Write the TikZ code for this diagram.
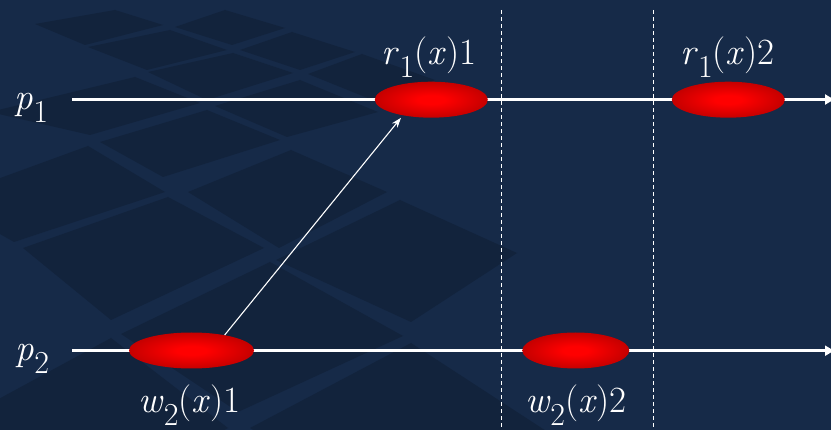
\documentclass[tikz,border=0pt]{standalone}
\usetikzlibrary{shapes.geometric, arrows.meta, positioning}
\definecolor{slideNavy}{HTML}{162A48}
\definecolor{tileNavy}{HTML}{12233C}
\definecolor{eventRed}{HTML}{FF0000}
\definecolor{eventDark}{HTML}{7A0000}
\pgfdeclareradialshading{eventglow}{\pgfpoint{0bp}{0bp}}{color(0bp)=(eventRed); color(6bp)=(eventRed); color(50bp)=(eventDark)}
\newcommand{\lowsub}[1]{\raisebox{-0.33em}{\fontsize{32}{34}\selectfont #1}}
\newcommand{\evlabel}[3]{\textit{#1}\lowsub{#2}(\textit{x})#3}
\tikzset{
    event/.style={ellipse, minimum height=36pt, inner sep=0pt, shading=eventglow},
    procline/.style={-{Triangle[length=9pt, width=10pt]}, line width=3pt, draw=white},
    msg/.style={-{Stealth[length=10pt, width=7pt]}, line width=1.1pt, draw=white, shorten >=3pt},
    cut/.style={draw=white, line width=1pt, dash pattern=on 4pt off 3pt},
    lbl/.style={text=white, font=\fontsize{37}{42}\selectfont, anchor=base, inner sep=0pt},
    tile/.style={fill=tileNavy},
}

\begin{document}
\begin{tikzpicture}[x=1pt, y=-1pt]
    % Background
    \useasboundingbox (0,0) rectangle (831,430);
    \fill[slideNavy] (0,0) rectangle (831,430);
    \begin{scope}
        \clip (0,0) rectangle (831,430);
        \foreach \ax/\ay/\bx/\by/\cx/\cy/\ex/\ey in {
            35/24/115/10/163/25/85/45, 88/47/170/30/227/50/147/70,
            148/72/233/53/293/73/207/100, -10/112/135/77/200/103/90/135,
            100/142/207/110/280/140/163/177, 23/248/168/197/264/248/111/320,
            188/192/291/150/387/192/279/248, 276/260/400/200/517/253/411/322,
            121/334/270/262/403/336/238/412, -40/420/111/338/228/428/100/500,
            250/428/411/343/560/440/400/520, 175/27/225/10/285/28/232/45,
            240/50/292/32/355/52/300/70, 308/74/362/54/435/80/385/105,
            215/106/300/80/378/112/287/137, -60/200/88/146/165/192/14/242}
            \fill[tile] (\ax,\ay) -- (\bx,\by) -- (\cx,\cy) -- (\ex,\ey) -- cycle;
    \end{scope}

    % Cuts
    \coordinate (cutAtop) at (501.7,10);
    \coordinate (cutAbot) at (501.7,432);
    \coordinate (cutBtop) at (653.7,10);
    \coordinate (cutBbot) at (653.7,432);
    \draw[cut] (cutAtop) -- (cutAbot);
    \draw[cut] (cutBtop) -- (cutBbot);

    % Process lines
    \coordinate (p1start) at (72,99.5);
    \coordinate (p1end) at (834,99.5);
    \coordinate (p2start) at (72,350.7);
    \coordinate (p2end) at (834,350.7);
    \draw[procline] (p1start) -- (p1end);
    \draw[procline] (p2start) -- (p2end);

    % Events
    \node[event, minimum width=113pt] (r1x1) at (431.3,99.7) {};
    \node[event, minimum width=113pt] (r1x2) at (728.3,99.7) {};
    \node[event, minimum width=125pt] (w2x1) at (191.5,350.5) {};
    \node[event, minimum width=107pt] (w2x2) at (575.8,350.5) {};

    % Message
    \draw[msg] (w2x1.25) -- (r1x1.209);

    % Labels
    \node[lbl] (lp1) at (31.5,110) {\textit{p}\lowsub{1}};
    \node[lbl] (lp2) at (32.5,361) {\textit{p}\lowsub{2}};
    \node[lbl] (lr1x1) at (429,65) {\evlabel{r}{1}{1}};
    \node[lbl] (lr1x2) at (727.5,65) {\evlabel{r}{1}{2}};
    \node[lbl] (lw2x1) at (189.5,413) {\evlabel{w}{2}{1}};
    \node[lbl] (lw2x2) at (576,413) {\evlabel{w}{2}{2}};
\end{tikzpicture}
\end{document}
